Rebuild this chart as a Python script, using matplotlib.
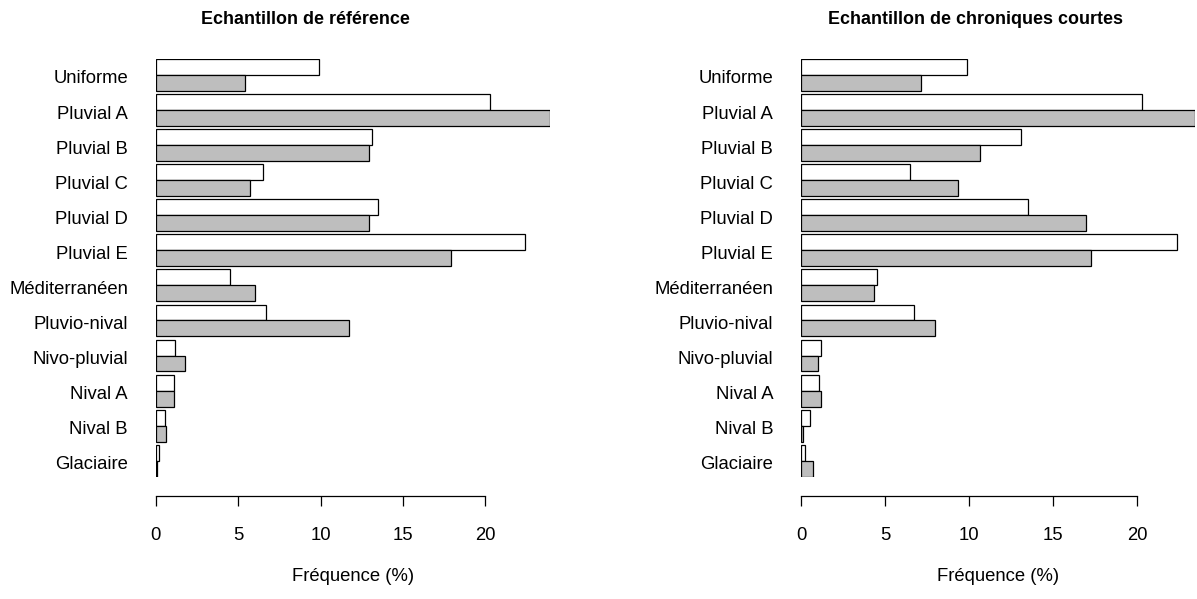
import matplotlib
matplotlib.use("Agg")
from matplotlib import pyplot as plt
from matplotlib import transforms
import numpy as np

plt.rcParams["font.family"] = ["Liberation Sans", "DejaVu Sans"]

categories = ["Uniforme", "Pluvial A", "Pluvial B", "Pluvial C", "Pluvial D", "Pluvial E",
              "Méditerranéen", "Pluvio-nival", "Nivo-pluvial", "Nival A", "Nival B", "Glaciaire"]
# reference frequencies (white bars, same in both panels)
freq_white = [9.9, 20.3, 13.1, 6.5, 13.5, 22.4, 4.5, 6.7, 1.2, 1.1, 0.55, 0.22]
# grey bars
freq_ref = [5.4, 23.9, 12.95, 5.7, 12.95, 17.9, 6.0, 11.7, 1.75, 1.1, 0.6, 0.05]
freq_short = [7.15, 23.45, 10.65, 9.35, 16.95, 17.25, 4.35, 8.0, 1.0, 1.2, 0.1, 0.7]
ticks = [0, 5, 10, 15, 20]
titles = ["Echantillon de référence", "Echantillon de chroniques courtes"]
xlabel = "Fréquence (%)"

W, H = 1197, 599
fig = plt.figure(figsize=(W / 100, H / 100), dpi=100)

panels = [(155.7, freq_ref, 305.7), (801.0, freq_short, 975.0)]
n = len(categories)
period = 2.2
pos = np.arange(n) * period
fs = 13.3

for (left_px, grey, title_x), title in zip(panels, titles):
    top_px, bot_px = 59.0, 476.7
    ax = fig.add_axes([left_px / W, 1 - bot_px / H, 394.0 / W, (bot_px - top_px) / H])
    ax.barh(pos + 0.5, freq_white, height=1, color="white", edgecolor="black", linewidth=0.9)
    ax.barh(pos + 1.5, grey, height=1, color="#bebebe", edgecolor="black", linewidth=0.9)
    for s in ["top", "right", "left"]:
        ax.spines[s].set_visible(False)
    ax.spines["bottom"].set_position(("outward", 13.7))
    ax.spines["bottom"].set_bounds(0, 20)
    ax.spines["bottom"].set_linewidth(0.9)
    ax.set_ylim(pos[-1] + 2, 0)
    ax.set_xlim(0, max(max(grey), max(freq_white)))
    ax.set_yticks(pos + 1)
    ax.set_yticklabels(categories)
    ax.tick_params(axis="y", length=0, pad=20, labelsize=fs)
    shift = transforms.ScaledTranslation(0, -2 / 100, fig.dpi_scale_trans)
    for lab in ax.get_yticklabels():
        lab.set_transform(lab.get_transform() + shift)
    ax.set_xticks(ticks)
    ax.set_xticklabels([str(t) for t in ticks])
    ax.tick_params(axis="x", length=7.2, width=0.9, pad=15, labelsize=fs)
    ax.patch.set_visible(False)
    fig.text(title_x / W, 1 - 20 / H, title, ha="center", va="center",
             fontsize=12.9, fontweight="bold")
    fig.text((left_px + 197) / W, 1 - 576.7 / H, xlabel, ha="center", va="center", fontsize=fs)

plt.savefig("out.png", dpi=100)
